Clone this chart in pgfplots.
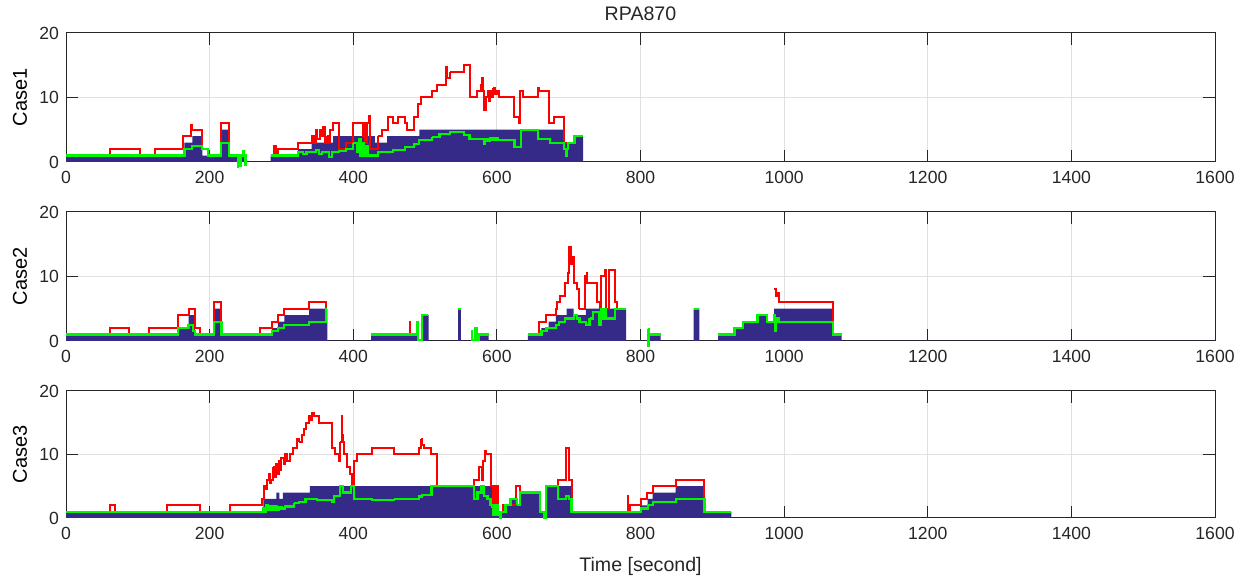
\documentclass[border=0pt]{standalone}
\usepackage{fontspec}
\setmainfont{Liberation Sans}
\usepackage{pgfplots}
\pgfplotsset{compat=1.18}
\definecolor{navyb}{RGB}{53,42,135}
\definecolor{gline}{RGB}{0,245,0}
\definecolor{axgray}{RGB}{38,38,38}
\pgfplotsset{
  panel/.style={
    scale only axis, width=574.5pt, height=64.5pt, anchor=south west,
    xmin=0, xmax=1600, ymin=0, ymax=20,
    xtick={0,200,...,1600}, ytick={0,10,20},
    grid=major, major grid style={color=black!12, line width=0.5pt},
    axis line style={color=axgray, line width=0.5pt},
    tick style={color=axgray, line width=0.5pt},
    major tick length=5.8pt, tick align=inside,
    tick label style={font=\fontsize{8.8}{10}\selectfont, color=axgray},
    /pgf/number format/assume math mode=true,
    /pgf/number format/1000 sep={},
    label style={font=\fontsize{9.8}{11}\selectfont, color=axgray},
    every axis y label/.style={at={(axis description cs:-0.04,0.5)}, anchor=center, rotate=90},
    every axis title/.style={at={(axis description cs:0.5,1)}, anchor=center, yshift=9.5pt, font=\fontsize{9.8}{11}\selectfont, color=axgray},
    clip=false,
    xticklabel style={yshift=-1pt},
  },
  nav/.style={const plot, fill=navyb, draw=none},
  rl/.style={const plot, draw=red, line width=1pt},
  gl/.style={const plot, draw=gline, line width=1.1pt},
}
\begin{document}
\begin{tikzpicture}
% ---------- Case1 ----------
\begin{axis}[panel, at={(33pt,208pt)}, ylabel={Case1}, title={RPA870}]
\addplot[nav] coordinates {(0,1) (165,3) (176,4) (190,1) (216,5) (227,1) (251,0) (285,1) (323,2) (342,3) (372,4) (430,3) (447,4) (492,5) (694,3) (708,4) (720,0) (1600,0)} \closedcycle;
% red
\addplot[rl] coordinates {(0,1) (61,2) (103,1) (124,2) (163,4) (174,5.7) (175.5,5) (189,2) (198,1) (216,6) (227,1) (250.9,1)};
\addplot[rl] coordinates {(285,1) (290,2.5) (292,1) (295,2) (323,3) (342,4) (345,3) (348,5) (350,3.5) (353,5) (356,4) (358,5.5) (361,3) (364,4)};
\addplot[rl] coordinates {(364,4) (366,3) (368,5) (372,6) (380,2) (390,3) (400,6) (412,6) (413,4) (415,6) (417,3) (419,6) (422,7.2) (424,2) (435,4)};
\addplot[rl] coordinates {(435,4) (440,5) (449,7) (455,6) (462,7) (472,6) (475,5) (485,7) (490,9) (494,10) (510,11) (517,12) (529,14.8) (530,13) (535,14)};
\addplot[rl] coordinates {(535,14) (554,15) (562,10) (572,11) (578,12) (579,13) (580,11) (582,8) (584.5,10) (587,11) (589,9.5) (591,11) (593,10) (595,11.5)};
\addplot[rl] coordinates {(595,11.5) (597,10.5) (600,11) (603,10) (609.5,10) (624.5,7) (631,6) (632,11) (637,10) (657,11.5) (658,11) (672,6) (679,7) (694,3) (708,4) (719.9,4)};
% green
\addplot[gl] coordinates {(0,1) (165,2) (175,2.5) (189,2) (198,1) (216,3) (227,1) (238,1) (239,-0.8) (240,1) (243,-0.6) (244,1) (247,1.7) (248,1) (250,-0.5) (250.9,1)};
\addplot[gl] coordinates {(285,1) (323,1.5) (330,1.3) (335,1.6) (342,1.5) (348,1.8) (352,1.2) (356,1.6) (360,1.5) (366,0.8) (370,1.5) (380,1.7) (390,2) (400,3)};
\addplot[gl] coordinates {(400,3) (405,1.5) (408,3.5) (410,1) (413,3) (415,1) (418,2.5) (420,1) (425,1) (435,1.5) (455,1.8) (472,2.3) (485,2.8) (492,3.4) (510,3.9)};
\addplot[gl] coordinates {(510,3.9) (520,4.4) (535,4.7) (554,4.2) (562,3.6) (582,2.8) (584,3.5) (587,3.2) (590,3.7) (594,3.4) (598,3.7) (602,3.4) (609.5,3.4)};
\addplot[gl] coordinates {(609.5,3.4) (624.5,2.3) (634,5) (657,3.6) (674,3) (694,2) (696,1) (697,2) (699,3) (708,4) (719.9,4)};
\end{axis}
% ---------- Case2 ----------
\begin{axis}[panel, at={(33pt,118.5pt)}, ylabel={Case2}]
\addplot[nav] coordinates {(0,1) (155.6,2) (170.6,4) (179.6,1) (206.5,5) (216.5,1) (286.8,2) (295,3) (304,4) (338.6,5) (364,0) (425,1) (490,0) (496,4) (505,0) (546,5) (550,0) (569.6,2) (572,0) (575.5,1) (588.5,0) (643,1) (662,2) (672,3) (682,4) (697,5) (707,4) (724,5) (780,0) (810,1) (828,0) (874,5) (882,0) (908,1) (931,2) (943,3) (963,4) (976,3) (986,5) (1068,1) (1080,0) (1600,0)} \closedcycle;
% red
\addplot[rl] coordinates {(0,1) (61,2) (88,1) (115,2) (155.6,4) (170.6,5) (179.6,2) (186.5,1) (206.5,6) (216.5,1) (270,2) (286.8,3) (295,4) (304,5) (338.6,6) (362.6,5) (363.9,5)};
\addplot[rl] coordinates {(425,1) (478.5,3) (479.5,1) (489.9,1)};
\addplot[rl] coordinates {(643,1) (659,3) (669,4) (682,5) (684,6) (688,7) (695,9) (699,10.5) (701,14.5) (703,12) (705,13) (708,9) (712,8) (715,5)};
\addplot[rl] coordinates {(715,5) (723,10) (724,9) (725,10.5) (726,9) (728,9) (740,6) (744,5) (745,10) (750,11) (752,5) (756,11) (764,6) (767,5) (779.9,5)};
\addplot[rl] coordinates {(986,8) (989,7) (990,7.5) (993,6) (1068,1) (1079.9,1)};
% green
\addplot[gl] coordinates {(0,1) (155.6,2) (170.6,2.5) (176.5,1.5) (179.6,1) (206.5,3) (216.5,1) (286.8,1.5) (295,2) (304,2.5) (338.6,3) (362.6,5) (363.9,5)};
\addplot[gl] coordinates {(425,1) (487.5,1) (488.5,3) (490,0.2) (495.8,4) (504.7,4)};
\addplot[gl] coordinates {(546,5) (549.9,5)};
\addplot[gl] coordinates {(564.5,1.5) (565.5,0.2) (569.6,2) (572,0.2) (575.5,1) (588.4,1)};
\addplot[gl] coordinates {(643,1) (662,1.5) (669,2) (682,2.5) (687,3) (695,3.5) (707,4) (712,3.5) (715,3) (724,2.5) (729,3.5)};
\addplot[gl] coordinates {(729,3.5) (734,4.5) (742,2.5) (745,5) (748,3.5) (750,5) (752,3.5) (756,3.5) (765,5) (779.9,5)};
\addplot[gl] coordinates {(810,1.8) (811,-0.8) (812,1) (827.9,1)};
\addplot[gl] coordinates {(874,5) (881.9,5)};
\addplot[gl] coordinates {(908,1) (931,2) (943,3) (963,4) (976,3) (986,4) (987,1.5) (988,3.5) (991,3) (992,3.5) (993,3) (1068,1) (1079.9,1)};
\end{axis}
% ---------- Case3 ----------
\begin{axis}[panel, at={(33pt,30pt)}, height=63.5pt, ylabel={Case3}, xlabel={Time [second]},
  xlabel style={at={(axis description cs:0.5,0)}, anchor=center, yshift=-24pt}]
\addplot[nav] coordinates {(0,1) (275,3) (293,4) (297,3) (302,4) (339.5,5) (594,1) (602,1) (609,2) (619,3) (628,2) (632.5,4) (660.5,1) (666,0) (668,5) (703,1) (801,2) (810,3) (817,4) (849,5) (889,1) (926.5,0) (1600,0)} \closedcycle;
% red
\addplot[rl] coordinates {(0,1) (61,2) (68,1) (140.5,2) (186,1) (228,2) (273,3) (275.3,5) (277,4.5) (280,6) (282,7) (284,5.5) (285.6,6) (288,8)};
\addplot[rl] coordinates {(288,8) (290,6.5) (292,8.5) (294,7) (296,9) (298,7.5) (300,9.5) (303,8.5) (305,10) (308,9) (312.5,10) (316,11) (322,12.5) (325,12)};
\addplot[rl] coordinates {(325,12) (328,13) (331,14) (334.4,15) (338,16) (340,15.5) (342,16.5) (345,16) (352,15) (368,15) (370.7,11) (375,10) (380,9) (382,12)};
\addplot[rl] coordinates {(382,12) (383.7,16) (385,13) (386,12) (387,10) (391.6,8) (396,7) (398.6,5) (401,9) (404.6,10) (426.5,11) (456.7,10) (491.6,11) (494,12.5)};
\addplot[rl] coordinates {(494,12.5) (496,11.5) (498.6,11) (508.8,10) (517,5) (568.4,6) (575,8) (578.6,6) (581,9) (583.7,10.5) (585,10) (592,5) (594,1)};
\addplot[rl] coordinates {(594,1) (595,5) (596,1) (597,5) (598,1) (599,5) (600,1) (601,5) (602,1) (609,2) (619,2) (626.5,5) (632.5,4) (660.5,1)};
\addplot[rl] coordinates {(660.5,1) (666,0) (668,5) (685.6,6) (696,11) (700.5,6) (704,1) (782,3.5) (783,1) (785,2) (800,3) (809,4) (817,5) (849,6) (889,1) (926.4,1)};
% green
\addplot[gl] coordinates {(0,1) (275,1.5) (277,1) (279,2) (281,1.2) (284,1.8) (287,1.3) (290,1.9) (293,1.2) (296,1.7) (300,1.5) (305,1.8) (310,1.8) (317,2.3)};
\addplot[gl] coordinates {(317,2.3) (325,2.5) (333.5,3) (350,2.8) (371,2.5) (373,3.5) (375,3.5) (382,5) (386,4) (391.6,4) (397,5) (401,3) (426.5,2.8) (456.7,3)};
\addplot[gl] coordinates {(456.7,3) (491.6,3.4) (496,3.6) (509,5) (568,3) (573,4) (578.6,5) (582,3.5) (587,3) (591,2) (594,1.5)};
\addplot[gl] coordinates {(594,1.5) (595,0.5) (596,2) (597,0.5) (598,2) (599,0.5) (600,2) (601,0.5) (602,1) (605,0) (606,1) (612,2) (619,3) (628,2)};
\addplot[gl] coordinates {(628,2) (632.5,4) (660.5,1) (666,0) (668,5) (685.6,3) (696,3.5) (700.5,3) (704,1) (801,1.5) (810,2) (817,2.5) (849,3) (889,1) (926.4,1)};
\end{axis}
\pgfresetboundingbox
\path (0,0) rectangle (621pt,289pt);
\end{tikzpicture}
\end{document}
